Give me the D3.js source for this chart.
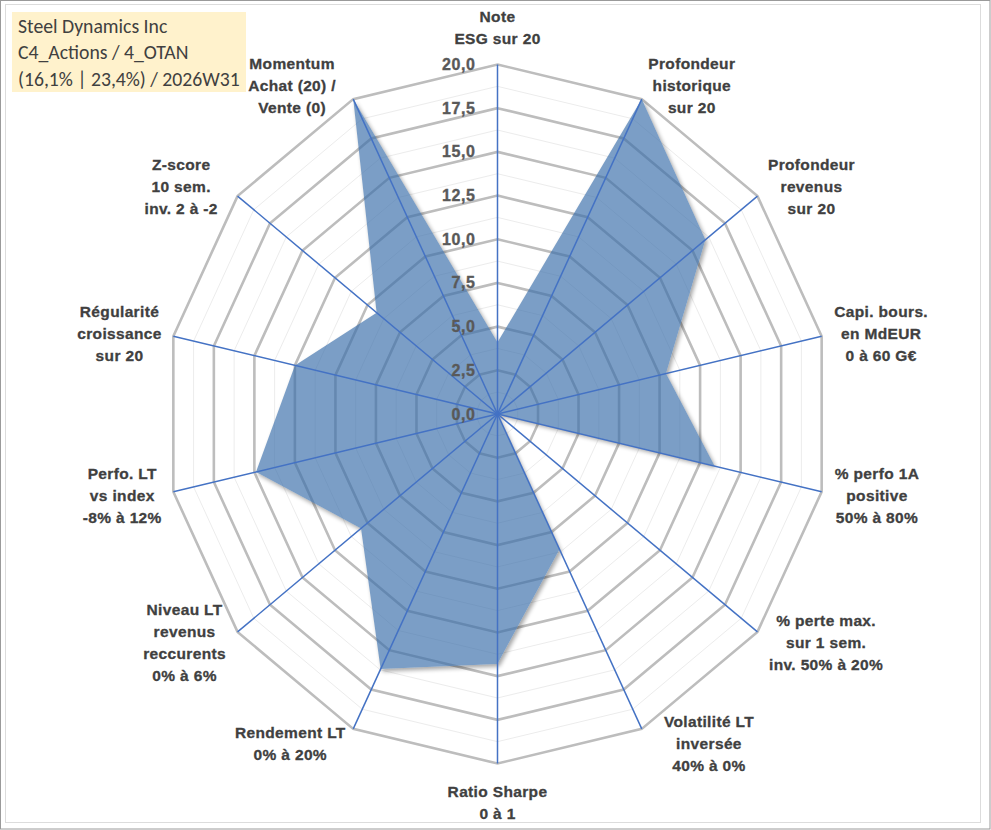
<!DOCTYPE html>
<html><head><meta charset="utf-8">
<script src="https://cdn.jsdelivr.net/npm/d3@7"></script>
<style>body{margin:0;background:#fff}svg{display:block}</style>
</head><body>
<svg id="chart" width="991" height="830"></svg>
<script>
// ---- data ----
const categories = [
  ["Note","ESG sur 20"],
  ["Profondeur","historique","sur 20"],
  ["Profondeur","revenus","sur 20"],
  ["Capi. bours.","en MdEUR","0 à 60 G€"],
  ["% perfo 1A","positive","50% à 80%"],
  ["% perte max.","sur 1 sem.","inv. 50% à 20%"],
  ["Volatilité LT","inversée","40% à 0%"],
  ["Ratio Sharpe","0 à 1"],
  ["Rendement LT","0% à 20%"],
  ["Niveau LT","revenus","reccurents","0% à 6%"],
  ["Perfo. LT","vs index","-8% à 12%"],
  ["Régularité","croissance","sur 20"],
  ["Z-score","10 sem.","inv. 2 à -2"],
  ["Momentum","Achat (20) /","Vente (0)"]
];
const values = [4.1, 20, 16, 10.4, 13.4, 0, 8.6, 14.3, 16.2, 10.5, 14.9, 12.5, 9.3, 20];
const tickValues = [0, 2.5, 5, 7.5, 10, 12.5, 15, 17.5, 20];
const tickLabels = ["0,0","2,5","5,0","7,5","10,0","12,5","15,0","17,5","20,0"];
const minorValues = [1.25, 3.75, 6.25, 8.75, 11.25, 13.75, 16.25, 18.75];
const titleLines = ["Steel Dynamics Inc", "C4_Actions / 4_OTAN", "(16,1% | 23,4%) / 2026W31"];

// ---- layout / style ----
const W = 991, H = 830;
const cx = 497.5, cy = 414, rx = 332.5, ry = 349.5;
const labelGapX = [0, 6.5, 10.5, 12.6, 13.1, 11.6, 22.3, 0, 7.6, 11.6, 11.6, 11.6, 19.7, 17.3];
const lineH = 22;

const n = categories.length;
const angle = d3.scaleLinear().domain([0, n]).range([0, 2 * Math.PI]);
const r = d3.scaleLinear().domain([0, 20]).range([0, 1]);
const px = (i, v) => cx + r(v) * rx * Math.sin(angle(i));
const py = (i, v) => cy - r(v) * ry * Math.cos(angle(i));

const svg = d3.select("#chart");
const defs = svg.append("defs");

// pick installed fonts
function fontExists(name) {
  const t1 = svg.append("text").style("font-family", "monospace").style("font-size", "20px").text("Profondeur Wmi 0123");
  const t2 = svg.append("text").style("font-family", `"${name}", monospace`).style("font-size", "20px").text("Profondeur Wmi 0123");
  const a = t1.node().getComputedTextLength(), b = t2.node().getComputedTextLength();
  t1.remove(); t2.remove();
  return Math.abs(a - b) > 0.5;
}
const sansCands = ["Liberation Sans", "Arial", "Arimo", "Helvetica", "DejaVu Sans"];
const labelFont = `"${sansCands.find(fontExists) || "sans-serif"}", sans-serif`;
const titleCands = ["Carlito", "Calibri", "Lato", "Open Sans"];
const titleFont = `"${titleCands.find(fontExists) || "sans-serif"}", sans-serif`;

// borders
svg.append("rect").attr("x", 0.5).attr("y", 0.5).attr("width", W - 1.5).attr("height", H - 1.5)
  .attr("fill", "#fff").attr("stroke", "#9a9a9a").attr("stroke-width", 1);
svg.append("rect").attr("x", 5.5).attr("y", 4.5).attr("width", 975).attr("height", 818)
  .attr("fill", "none").attr("stroke", "#dcdcdc").attr("stroke-width", 1);

const idx = d3.range(n);
const ring = lvl => d3.line().x(i => px(i, lvl)).y(i => py(i, lvl)).curve(d3.curveLinearClosed)(idx);

// minor rings
svg.append("g").selectAll("path").data(minorValues).join("path")
  .attr("d", d => ring(d)).attr("fill", "none").attr("stroke", "#ececec").attr("stroke-width", 1);
// major rings
svg.append("g").selectAll("path").data(tickValues.filter(t => t > 0)).join("path")
  .attr("d", d => ring(d)).attr("fill", "none").attr("stroke", "#bdbdbd").attr("stroke-width", 2.6)
  .attr("stroke-linejoin", "miter");

// data polygon
const polyD = d3.line().x((v, i) => px(i, v)).y((v, i) => py(i, v)).curve(d3.curveLinearClosed)(values);

defs.append("filter").attr("id", "blur").attr("x", "-10%").attr("y", "-10%").attr("width", "120%").attr("height", "120%")
  .append("feGaussianBlur").attr("stdDeviation", 2.2);
const mask = defs.append("mask").attr("id", "outside").attr("maskUnits", "userSpaceOnUse")
  .attr("x", 0).attr("y", 0).attr("width", W).attr("height", H);
mask.append("rect").attr("width", W).attr("height", H).attr("fill", "white");
mask.append("path").attr("d", polyD).attr("fill", "black");

svg.append("g").attr("mask", "url(#outside)")
  .append("path").attr("d", polyD).attr("transform", "translate(2,2.5)")
  .attr("fill", "#000").attr("opacity", 0.35).attr("filter", "url(#blur)");

svg.append("path").attr("d", polyD)
  .attr("fill", "#3a6eaa").attr("fill-opacity", 0.67).attr("stroke", "none");

// spokes
svg.append("g").selectAll("line").data(idx).join("line")
  .attr("x1", cx).attr("y1", cy)
  .attr("x2", i => px(i, 20)).attr("y2", i => py(i, 20))
  .attr("stroke", "#4472c4").attr("stroke-width", 1.5);

// tick labels
svg.append("g").selectAll("text").data(tickValues).join("text")
  .attr("x", cx - 22).attr("y", d => py(0, d))
  .attr("text-anchor", "end").attr("dominant-baseline", "central")
  .style("font-family", labelFont).attr("font-weight", "bold")
  .attr("font-size", 16).attr("letter-spacing", 0.6).attr("fill", "#595959")
  .attr("stroke", "#595959").attr("stroke-width", 0.35)
  .text((d, i) => tickLabels[i]);

// category labels
const lg = svg.append("g")
  .style("font-family", labelFont).attr("font-weight", "bold")
  .attr("font-size", 15.5).attr("letter-spacing", 0.35).attr("fill", "#404040")
  .attr("stroke", "#404040").attr("stroke-width", 0.3);

categories.forEach((lines, i) => {
  const a = angle(i), s = Math.sin(a), c = Math.cos(a);
  const t = lg.append("text").attr("text-anchor", "middle").attr("dominant-baseline", "central");
  const tsp = t.selectAll("tspan").data(lines).join("tspan").text(d => d);
  const widths = [];
  tsp.each(function () { widths.push(this.getComputedTextLength()); });
  const w = d3.max(widths);
  let xC, y0;
  if (Math.abs(s) < 1e-6) {
    xC = cx;
    if (c > 0) y0 = cy - ry - 16 - (lines.length - 1) * lineH - lineH / 2;
    else y0 = cy + ry + 16 + lineH / 2;
  } else {
    const ex = px(i, 20);
    const sign = s > 0 ? 1 : -1;
    xC = ex + sign * (labelGapX[i] + w / 2);
    const yMid = cy - (ry + 16) * c;
    y0 = yMid - (lines.length - 1) * lineH / 2;
  }
  tsp.attr("x", xC).attr("y", (d, k) => y0 + k * lineH);
});

// title box
svg.append("rect").attr("x", 12).attr("y", 12).attr("width", 234).attr("height", 80).attr("fill", "#fff2cc");
const tt = svg.append("g").style("font-family", titleFont).attr("fill", "#404040");
const base = 17;
const probe = tt.append("text").attr("font-size", base).text(titleLines[2]);
const k = 222 / probe.node().getComputedTextLength();
probe.remove();
tt.selectAll("text").data(titleLines).join("text")
  .attr("x", 18).attr("y", (d, i) => 33 + i * 26.3)
  .attr("font-size", base * k).text(d => d);
</script>
</body></html>
